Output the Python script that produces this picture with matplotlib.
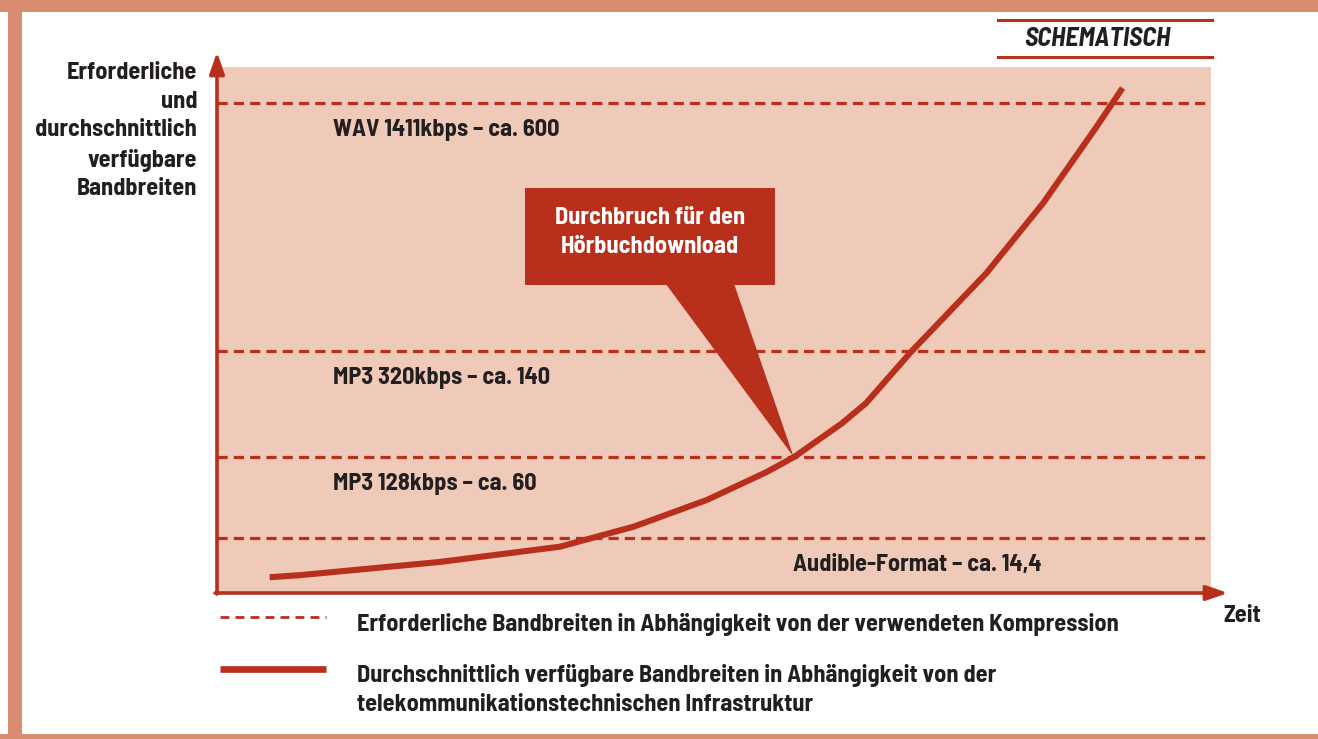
import numpy as np
import matplotlib
matplotlib.use("Agg")
import matplotlib.pyplot as plt
from matplotlib.patches import Rectangle, Polygon
from matplotlib import font_manager

RED = "#b8301c"
FILL = "#efcab9"
FRAME = "#d98b6f"
INK = "#231f20"

W, H = 1318, 739

# schematic levels (0..100 scale of the y axis)
level_labels = ["WAV 1411kbps – ca. 600", "MP3 320kbps – ca. 140",
                "MP3 128kbps – ca. 60", "Audible-Format – ca. 14,4"]
level_y = [93.2, 46.0, 25.9, 10.5]

# available bandwidth over time (schematic, 0..100 scale)
curve_x = [5.3, 8.4, 22.4, 34.5, 37.8, 41.9, 49.3, 55.3, 58.1, 62.9,
           65.3, 69.9, 77.4, 83.1, 88.4, 91.1]
curve_y = [3.0, 3.4, 5.9, 8.8, 10.5, 12.6, 17.7, 23.0, 25.9, 32.3,
           36.1, 46.0, 60.8, 74.1, 88.4, 96.0]

y_label = "Erforderliche\nund\ndurchschnittlich\nverfügbare\nBandbreiten"
x_label = "Zeit"
callout = "Durchbruch für den\nHörbuchdownload"
legend_dash = "Erforderliche Bandbreiten in Abhängigkeit von der verwendeten Kompression"
legend_line = ("Durchschnittlich verfügbare Bandbreiten in Abhängigkeit von der\n"
               "telekommunikationstechnischen Infrastruktur")

names = {f.name for f in font_manager.fontManager.ttflist}
FAM = [n for n in ("Barlow Semi Condensed", "Asap Condensed") if n in names]
plt.rcParams["font.family"] = FAM + ["DejaVu Sans"]
plt.rcParams["font.weight"] = "bold"
FS = 17.5
LS = 1.4


def fx(x):
    return x / W


def fy(y):
    return 1 - y / H


fig = plt.figure(figsize=(W / 100, H / 100), dpi=100)
fig.patch.set_facecolor("white")

# frame bands
fig.patches.append(Rectangle((0, fy(12)), 1, 12 / H, transform=fig.transFigure,
                             facecolor=FRAME, edgecolor="none"))
fig.patches.append(Rectangle((fx(8), 0), 14 / W, 1, transform=fig.transFigure,
                             facecolor=FRAME, edgecolor="none"))
fig.patches.append(Rectangle((0, 0), 1, 5 / H, transform=fig.transFigure,
                             facecolor=FRAME, edgecolor="none"))

x0, x1, ytop, ybot = 217, 1211, 67, 593
ax = fig.add_axes([fx(x0), fy(ybot), (x1 - x0) / W, (ybot - ytop) / H])
ax.set_xlim(0, 100)
ax.set_ylim(0, 100)
ax.set_facecolor(FILL)
for s in ax.spines.values():
    s.set_visible(False)
ax.set_xticks([])
ax.set_yticks([])

# axes arrows
arr = dict(arrowstyle="-|>,head_length=1.3,head_width=0.45", color=RED, lw=2.6,
           shrinkA=0, shrinkB=0)
ax.annotate("", xy=(0, (ybot - 52) / (ybot - ytop)), xytext=(0, -0.002),
            xycoords="axes fraction", arrowprops=arr, annotation_clip=False)
ax.annotate("", xy=((1228 - x0) / (x1 - x0), 0), xytext=(-0.002, 0),
            xycoords="axes fraction", arrowprops=arr, annotation_clip=False)

# required bandwidth levels
for i, (lab, yv) in enumerate(zip(level_labels, level_y)):
    ax.axhline(yv, color=RED, lw=2.3, dashes=(3.2, 1.9), zorder=2)
    tx = 11.7 if i < 3 else 57.9
    ax.annotate(lab, xy=(tx, yv), xytext=(0, -27), textcoords="offset pixels",
                ha="left", va="center", fontsize=FS, color=INK, fontweight="bold")

# available bandwidth curve
ax.plot(curve_x, curve_y, color=RED, lw=4.4, solid_capstyle="butt",
        solid_joinstyle="round", zorder=4)

# callout pointing at the crossing with the MP3 128 level
tip_y = level_y[2]
tip_x = np.interp(tip_y, curve_y, curve_x)
bx0, bx1, by0, by1 = 31.0, 56.1, 58.6, 77.0
ax.add_patch(Rectangle((bx0, by0), bx1 - bx0, by1 - by0, facecolor=RED,
                       edgecolor="none", zorder=5))
ax.add_patch(Polygon([(45.1, by0 + 0.3), (52.0, by0 + 0.3), (tip_x - 0.1, tip_y)],
                     closed=True, facecolor=RED, edgecolor="none", zorder=5))
ax.text((bx0 + bx1) / 2, 68.6, callout, ha="center", va="center", color="white",
        fontsize=FS, fontweight="bold", linespacing=LS, zorder=6)

# outer texts
fig.text(fx(197), fy(131), y_label, ha="right", va="center", fontsize=FS,
         color=INK, fontweight="bold", linespacing=LS)
fig.text(fx(1223), fy(616), x_label, ha="left", va="center", fontsize=FS,
         color=INK, fontweight="bold")

# "SCHEMATISCH" tag
fig.add_artist(plt.Line2D([fx(998), fx(1212)], [fy(20), fy(20)], color=RED, lw=2.2))
fig.add_artist(plt.Line2D([fx(998), fx(1212)], [fy(57), fy(57)], color=RED, lw=2.2))
fig.text(fx(1097), fy(39), "SCHEMATISCH", ha="center", va="center", fontsize=19,
         color=INK, fontweight="bold", style="italic")

# legend
fig.add_artist(plt.Line2D([fx(220), fx(326)], [fy(617), fy(617)], color=RED, lw=2.0,
                          dashes=(3.2, 2.2)))
fig.add_artist(plt.Line2D([fx(220), fx(326)], [fy(669), fy(669)], color=RED, lw=4.8,
                          solid_capstyle="butt"))
fig.text(fx(357), fy(624), legend_dash, ha="left", va="center", fontsize=FS,
         color=INK, fontweight="bold")
fig.text(fx(357), fy(690), legend_line, ha="left", va="center", fontsize=FS,
         color=INK, fontweight="bold", linespacing=LS)

fig.savefig("out.png", dpi=100, facecolor="white")
